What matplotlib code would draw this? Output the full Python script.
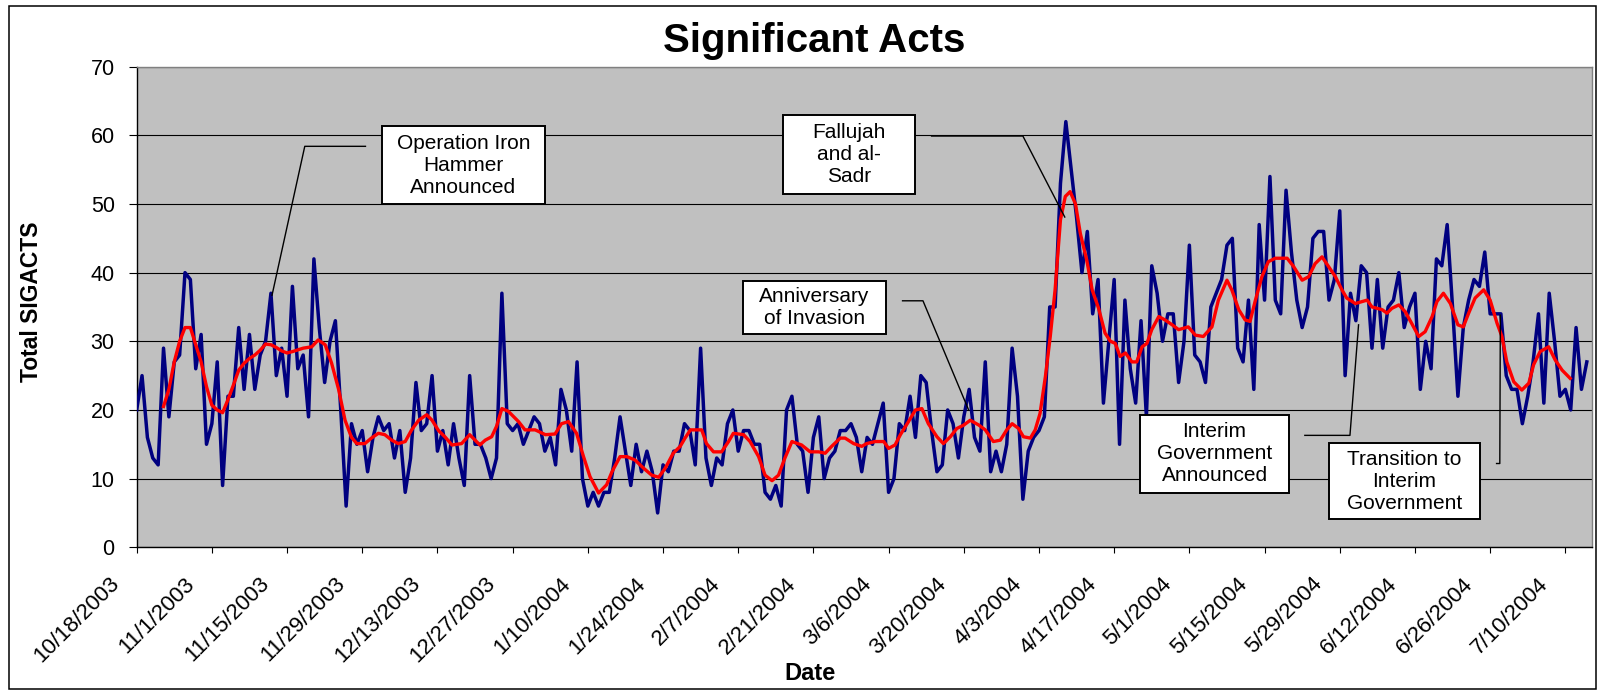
import numpy as np
import matplotlib
matplotlib.use('Agg')
import matplotlib.pyplot as plt
from matplotlib.patches import Rectangle
from matplotlib.transforms import ScaledTranslation

plt.rcParams['font.family'] = ['Liberation Sans', 'DejaVu Sans']

# significant acts per day, starting 10/18/2003
sigacts = [
    20, 25, 16, 13, 12, 29, 19, 27, 28, 40,
    39, 26, 31, 15, 18, 27, 9, 22, 22, 32,
    23, 31, 23, 28, 30, 37, 25, 29, 22, 38,
    26, 28, 19, 42, 32, 24, 30, 33, 20, 6,
    18, 15, 17, 11, 16, 19, 17, 18, 13, 17,
    8, 13, 24, 17, 18, 25, 14, 17, 12, 18,
    13, 9, 25, 15, 15, 13, 10, 13, 37, 18,
    17, 18, 15, 17, 19, 18, 14, 16, 12, 23,
    20, 14, 27, 10, 6, 8, 6, 8, 8, 13,
    19, 14, 9, 15, 11, 14, 11, 5, 12, 11,
    14, 14, 18, 17, 12, 29, 13, 9, 13, 12,
    18, 20, 14, 17, 17, 15, 15, 8, 7, 9,
    6, 20, 22, 15, 14, 8, 16, 19, 10, 13,
    14, 17, 17, 18, 16, 11, 16, 15, 18, 21,
    8, 10, 18, 17, 22, 16, 25, 24, 17, 11,
    12, 20, 18, 13, 19, 23, 16, 14, 27, 11,
    14, 11, 15, 29, 22, 7, 14, 16, 17, 19,
    35, 35, 53, 62, 55, 48, 40, 46, 34, 39,
    21, 30, 39, 15, 36, 26, 21, 33, 19, 41,
    37, 30, 34, 34, 24, 30, 44, 28, 27, 24,
    35, 37, 39, 44, 45, 29, 27, 36, 23, 47,
    36, 54, 36, 34, 52, 43, 36, 32, 35, 45,
    46, 46, 36, 39, 49, 25, 37, 33, 41, 40,
    29, 39, 29, 35, 36, 40, 32, 35, 37, 23,
    30, 26, 42, 41, 47, 35, 22, 32, 36, 39,
    38, 43, 34, 34, 34, 25, 23, 23, 18, 22,
    27, 34, 21, 37, 30, 22, 23, 20, 32, 23,
    27]

# moving average trend (red): day number and value
ma_day = [5, 6, 7, 8, 9, 10, 11, 12, 13, 14, 15, 16, 17, 18, 19, 20, 21, 22, 23, 24,
          25, 26, 27, 28, 29, 31, 32.6, 33.8, 35.1, 36.3, 37.6, 38.8, 40, 41, 42.5, 43.7,
          45, 46.2, 47.5, 48.7, 50, 51.2, 52.5, 54, 55, 56.2, 57.5, 58.7, 60.5, 62, 63.9,
          64.9, 66.1, 67, 68, 69.2, 71.1, 72.3, 74.2, 76.1, 77.9, 79.1, 80.4, 81.9, 83.2,
          84.4, 86, 87.5, 88.5, 90, 91.3, 92.8, 94.4, 95.9, 97.2, 98.4, 99.9, 101.2, 102.1,
          103.1, 105.2, 106.1, 107.4, 108.9, 110.2, 111.1, 113, 114.2, 115.8, 117, 118.3,
          119.5, 120.7, 122, 123.8, 125.4, 127, 128.2, 129.4, 131, 131.9, 133.5, 135, 135.9,
          137.5, 139.1, 140, 141.2, 142.2, 143.7, 145, 146.2, 147.4, 149, 150.2, 151.5,
          152.7, 154, 155.2, 156.8, 158, 159.5, 160.8, 162, 163, 164.2, 165.1, 166.4, 167.3,
          168.2, 169.2, 170.1, 171, 172, 172.9, 173.8, 174.8, 175.7, 176.9, 177.9, 179.1,
          180.3, 181.3, 182.2, 183.1, 184.1, 185.3, 186.2, 187.2, 188.1, 189, 190.3, 191.5,
          192.8, 194, 195.8, 197.1, 198.6, 200.2, 201.4, 203, 203.9, 205.2, 206.4, 207.3,
          208.3, 209.5, 210.7, 212, 214.2, 215.4, 217, 218.2, 219.4, 220.7, 221.9, 223.2,
          224.4, 225.3, 226.9, 229.1, 230, 231.9, 232.8, 233.7, 235, 236.2, 237.4, 238.7,
          239.9, 241.2, 242.1, 243.3, 244.6, 246, 247, 248, 249.2, 250.8, 252, 253.3, 254.2,
          255.1, 256.4, 257.9, 259.2, 260.1, 261.3, 262.9, 264.1, 265.4, 266.9]
ma_val = [20.5, 23, 27, 30, 32, 32, 29.5, 27, 23.4, 20.7, 20, 19.6, 21.5, 23.6, 25.8, 26.8,
          27.5, 28, 28.7, 29.6, 29.5, 29.1, 28.6, 28.3, 28.5, 29, 29.2, 30.2, 29.5, 26.8, 23,
          18.5, 16, 15.1, 15.1, 15.9, 16.6, 16.4, 15.6, 15.1, 15.4, 17.1, 18.5, 19.3, 18.5,
          17, 16, 14.9, 15.1, 16.4, 14.9, 15.6, 16.1, 17.6, 20.2, 19.8, 18.3, 17.1, 17.1,
          16.4, 16.5, 18, 18.3, 16.6, 13.2, 10.3, 7.9, 9.1, 11, 13.2, 13.2, 12.7, 11.5, 10.5,
          10.2, 11.5, 13.7, 14.7, 15.9, 17.1, 17.1, 15.1, 13.9, 13.9, 15.4, 16.6, 16.4, 15.4,
          13.2, 10.5, 9.7, 10.5, 13, 15.4, 14.9, 13.9, 13.9, 13.7, 14.7, 15.9, 15.9, 15.1,
          14.7, 15.1, 15.4, 15.4, 14.4, 14.9, 16.4, 18.3, 20, 20.2, 18, 16.1, 15.1, 16.1,
          17.3, 17.8, 18.5, 17.8, 17.1, 15.4, 15.6, 17.1, 18, 17.3, 16.1, 15.9, 17.1, 19.5,
          24.9, 30.7, 37.5, 47.7, 51.1, 51.8, 50, 45.7, 41.8, 37.5, 34.8, 31.2, 30, 29.7,
          27.8, 28.3, 27, 27, 29.2, 29.7, 31.7, 33.6, 33.1, 32.4, 31.7, 32.1, 30.9, 30.7,
          32.1, 36, 38.9, 37.5, 34.6, 33.1, 32.9, 36, 39.4, 41.6, 42.1, 42.1, 40.9, 38.9,
          39.4, 41.3, 42.3, 40.9, 39.4, 37.5, 36.3, 35.5, 36, 35, 34.6, 34.1, 34.8, 35.3,
          34.3, 32.6, 30.7, 31.4, 33.6, 35.8, 37, 35.5, 32.4, 32.1, 34.1, 36.3, 37.5, 36,
          32.6, 30.7, 27, 24.1, 22.9, 23.9, 26.6, 28.5, 29.2, 27.3, 25.8, 24.6]

date_labels = ['10/18/2003', '11/1/2003', '11/15/2003', '11/29/2003', '12/13/2003',
               '12/27/2003', '1/10/2004', '1/24/2004', '2/7/2004', '2/21/2004',
               '3/6/2004', '3/20/2004', '4/3/2004', '4/17/2004', '5/1/2004',
               '5/15/2004', '5/29/2004', '6/12/2004', '6/26/2004', '7/10/2004']

# annotation texts
notes = ['Operation Iron\nHammer\nAnnounced', 'Fallujah\nand al-\nSadr',
         'Anniversary\nof Invasion', 'Interim\nGovernment\nAnnounced',
         'Transition to\nInterim\nGovernment']

fig = plt.figure(figsize=(16.04, 6.91), dpi=100)
fig.patches.append(Rectangle((0.0053, 0.003), 0.9897, 0.9877, transform=fig.transFigure,
                             fill=False, edgecolor='black', linewidth=1.1))

ax = fig.add_axes([0.0852, 0.208, 0.9071, 0.6955])
ax.set_facecolor('#C0C0C0')

days = np.arange(len(sigacts))
ax.plot(days, sigacts, color='#000080', linewidth=2.5, zorder=3)
ax.plot(ma_day, ma_val, color='#FF0000', linewidth=2.4, zorder=4)

ax.set_xlim(0, 270.9)
ax.set_ylim(0, 70)
ax.set_yticks(range(0, 71, 10))
ax.yaxis.grid(True, color='black', linewidth=0.8)
ax.set_axisbelow(True)

# date labels drawn by hand so they can sit down and left of the tick, like Excel
tick_pos = np.arange(len(date_labels)) * 14
ax.set_xticks(tick_pos)
ax.set_xticklabels([])
lab_tr = ax.get_xaxis_transform() + ScaledTranslation(-0.28, -0.26, fig.dpi_scale_trans)
for pos, lab in zip(tick_pos, date_labels):
    ax.text(pos, 0, lab, transform=lab_tr, rotation=45, ha='right', va='top',
            rotation_mode='anchor', fontsize=16, clip_on=False)

ax.tick_params(axis='x', length=4.5, width=0.8, direction='out')
ax.tick_params(axis='y', length=5.8, width=0.8, labelsize=15.5, pad=10, direction='out')
for s in ['top', 'right']:
    ax.spines[s].set_color('#808080')
for s in ['left', 'bottom']:
    ax.spines[s].set_color('black')
for s in ax.spines.values():
    s.set_linewidth(1)

fig.text(0.5077, 0.94, 'Significant Acts', fontsize=29, fontweight='bold',
         ha='center', va='center')
fig.text(0.0195, 0.563, 'Total SIGACTS', fontsize=16.5, fontweight='bold',
         rotation=90, ha='center', va='center')
fig.text(0.505, 0.026, 'Date', fontsize=17, fontweight='bold', ha='center', va='center')

# boxes: (left, bottom, width, height) in data units, leader lines as (days, values)
boxes = [(45.7, 50.0, 30.3, 11.3), (120.4, 51.5, 24.6, 11.4), (112.9, 31.0, 26.6, 7.8),
         (186.8, 7.9, 27.8, 11.4), (222.0, 4.1, 28.1, 11.1)]
leaders = [([42.6, 31.3, 25.2], [58.4, 58.4, 36.7]),
           ([148.0, 165.0, 172.8], [59.9, 59.9, 48.1]),
           ([142.6, 146.4, 154.9], [35.9, 35.9, 20.0]),
           ([217.5, 225.9, 227.5], [16.3, 16.3, 32.4]),
           ([253.2, 253.8, 253.9], [12.2, 12.2, 33.8])]

for txt, (bx, by, bw, bh), (lx, ly) in zip(notes, boxes, leaders):
    ax.plot(lx, ly, color='black', linewidth=1, zorder=5)
    ax.add_patch(Rectangle((bx, by), bw, bh, facecolor='white', edgecolor='black',
                           linewidth=1.4, zorder=6))
    ax.text(bx + bw / 2, by + bh / 2, txt, fontsize=15, ha='center', va='center',
            linespacing=1.2, zorder=7)

fig.savefig('out.png', dpi=100)
